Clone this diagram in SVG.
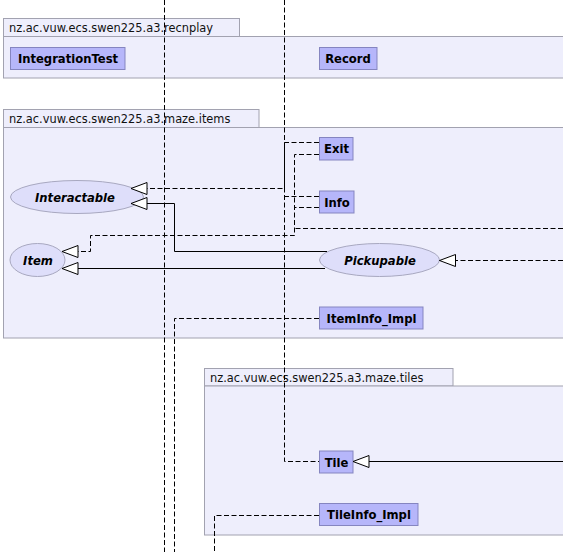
<svg xmlns="http://www.w3.org/2000/svg" width="563" height="552" viewBox="0 0 563 552">
  <style>
    .pkg { fill: #eeeefc; stroke: #a2a2b0; stroke-width: 1; }
    .pkg-label { font-family: "DejaVu Sans", "Liberation Sans", sans-serif; font-size: 11.4px; fill: #111; }
    .cls { fill: #b6b6fa; stroke: #8585c0; stroke-width: 1; }
    .cls-label { font-family: "DejaVu Sans", "Liberation Sans", sans-serif; font-size: 11.6px; font-weight: bold; fill: #000; text-anchor: middle; }
    .ifc { fill: #dedefa; stroke: #a8a8c0; stroke-width: 1; }
    .ifc-label { font-family: "DejaVu Sans", "Liberation Sans", sans-serif; font-size: 11.6px; font-weight: bold; font-style: italic; fill: #000; text-anchor: middle; }
    .dep { fill: none; stroke: #000; stroke-width: 1; stroke-dasharray: 5 2.5; }
    .ext { fill: none; stroke: #000; stroke-width: 1; }
  </style>
  <defs>
    <marker id="hollow" markerUnits="userSpaceOnUse" markerWidth="18" markerHeight="14" refX="16.5" refY="6.5" orient="auto" overflow="visible">
      <path d="M0.5,0.5 L16.5,6.5 L0.5,12.5 Z" fill="#fff" stroke="#000" stroke-width="1" stroke-dasharray="none"/>
    </marker>
  </defs>

  <rect width="563" height="552" fill="#fff"/>

  <!-- packages -->
  <g id="pkg-recnplay">
    <rect class="pkg" x="3.5" y="18.5" width="236" height="18"/>
    <rect class="pkg" x="3.5" y="36.5" width="570" height="41.5"/>
    <text class="pkg-label" x="9" y="32">nz.ac.vuw.ecs.swen225.a3.recnplay</text>
  </g>
  <g id="pkg-items">
    <rect class="pkg" x="3.5" y="109.5" width="255.5" height="18"/>
    <rect class="pkg" x="3.5" y="127.5" width="570" height="210.5"/>
    <text class="pkg-label" x="9" y="123">nz.ac.vuw.ecs.swen225.a3.maze.items</text>
  </g>
  <g id="pkg-tiles">
    <rect class="pkg" x="204.5" y="368.5" width="248.5" height="17.5"/>
    <rect class="pkg" x="204.5" y="386" width="370" height="149"/>
    <text class="pkg-label" x="210" y="382">nz.ac.vuw.ecs.swen225.a3.maze.tiles</text>
  </g>

  <!-- classes and interfaces -->
  <g id="IntegrationTest">
    <rect class="cls" x="10.5" y="47.5" width="114.5" height="22"/>
    <text class="cls-label" x="68" y="63">IntegrationTest</text>
  </g>
  <g id="Record">
    <rect class="cls" x="319.5" y="47.5" width="57.5" height="22"/>
    <text class="cls-label" x="348" y="63">Record</text>
  </g>
  <g id="Exit">
    <rect class="cls" x="319.5" y="137.5" width="33.5" height="22.5"/>
    <text class="cls-label" x="336.5" y="153">Exit</text>
  </g>
  <g id="Info">
    <rect class="cls" x="319.5" y="191" width="34.5" height="22"/>
    <text class="cls-label" x="337" y="206.5">Info</text>
  </g>
  <g id="ItemInfo_Impl">
    <rect class="cls" x="319.5" y="307" width="103.5" height="22"/>
    <text class="cls-label" x="371.5" y="322.5">ItemInfo_Impl</text>
  </g>
  <g id="Tile">
    <rect class="cls" x="319.5" y="451" width="33.5" height="22"/>
    <text class="cls-label" x="336.5" y="466.5">Tile</text>
  </g>
  <g id="TileInfo_Impl">
    <rect class="cls" x="319.5" y="503.5" width="98.5" height="22"/>
    <text class="cls-label" x="369" y="519">TileInfo_Impl</text>
  </g>
  <g id="Interactable">
    <ellipse class="ifc" cx="77" cy="197" rx="66.5" ry="16.5"/>
    <text class="ifc-label" x="75" y="201.5">Interactable</text>
  </g>
  <g id="Item">
    <ellipse class="ifc" cx="37.5" cy="260" rx="27.5" ry="16.5"/>
    <text class="ifc-label" x="38" y="264.5">Item</text>
  </g>
  <g id="Pickupable">
    <ellipse class="ifc" cx="379.5" cy="260" rx="60" ry="16.5"/>
    <text class="ifc-label" x="380" y="264.5">Pickupable</text>
  </g>

  <!-- connectors -->
  <g id="connectors">
    <path class="dep" d="M164.5,0 V552"/>
    <path class="dep" d="M284.5,0 V461.5 H319"/>
    <path class="dep" d="M319,142.5 H284.5 V188.5 H131" marker-end="url(#hollow)"/>
    <path class="dep" d="M319,196.5 H284.5"/>
    <path class="dep" d="M319,154.5 H294.5 V235.5 H90.5 V251.5 H62" marker-end="url(#hollow)"/>
    <path class="dep" d="M319,207.5 H294.5"/>
    <path class="dep" d="M563,228.5 H294.5"/>
    <path class="dep" d="M319,318.5 H174.5 V552"/>
    <path class="dep" d="M319,515.5 H214.5 V552"/>
    <path class="dep" d="M563,260.5 H439.5" marker-end="url(#hollow)"/>
    <path class="ext" d="M327,251.5 H174.5 V203.5 H131" marker-end="url(#hollow)"/>
    <path class="ext" d="M325,268.5 H62" marker-end="url(#hollow)"/>
    <path class="ext" d="M563,461.5 H353" marker-end="url(#hollow)"/>
  </g>
</svg>
